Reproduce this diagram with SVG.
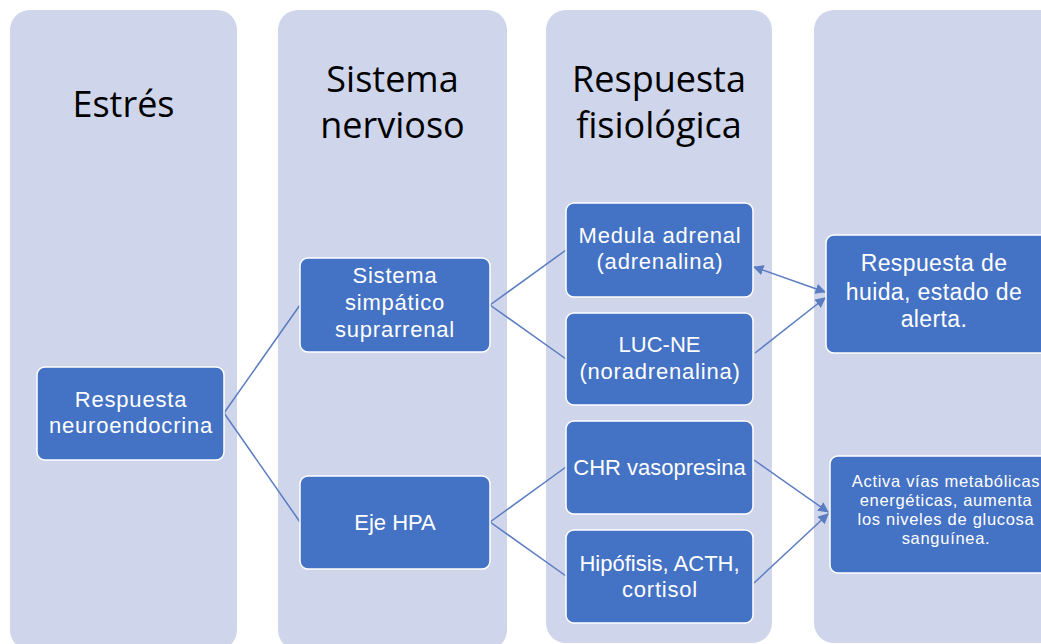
<svg xmlns="http://www.w3.org/2000/svg" width="1041" height="644" viewBox="0 0 1041 644">
<defs>
<style>
.col{fill:#cfd5ea;}
.node{fill:#4472c4;stroke:#ffffff;stroke-width:1.5;}
.hd{font-family:"Open Sans","Liberation Sans",sans-serif;font-size:36px;fill:#000000;text-anchor:middle;}
.t{font-family:"Liberation Sans",Arial,sans-serif;font-size:22px;letter-spacing:0.8px;fill:#ffffff;text-anchor:middle;}
.tn{font-family:"Liberation Sans",Arial,sans-serif;font-size:22px;letter-spacing:0px;fill:#ffffff;text-anchor:middle;}
.t2{font-family:"Liberation Sans",Arial,sans-serif;font-size:23px;letter-spacing:0.4px;fill:#ffffff;text-anchor:middle;}
.t3{font-family:"Liberation Sans",Arial,sans-serif;font-size:16.5px;letter-spacing:0.7px;fill:#ffffff;text-anchor:middle;}
.ln{stroke:#5b7cc0;stroke-width:1.5;fill:none;}
</style>
<marker id="ah" viewBox="0 0 10 10" refX="9" refY="5" markerWidth="7" markerHeight="7" orient="auto-start-reverse">
<path d="M0,0 L10,5 L0,10 z" fill="#5b7cc0"/>
</marker>
</defs>
<rect width="1041" height="644" fill="#ffffff"/>
<g id="col-estres">
<rect class="col" x="10" y="10" width="227" height="640" rx="20"/>
<text class="hd" x="123.5" y="117">Estrés</text>
</g>
<g id="col-sistema">
<rect class="col" x="278" y="10" width="229" height="640" rx="20"/>
<text class="hd" x="392.5" y="92">Sistema</text>
<text class="hd" x="392.5" y="138">nervioso</text>
</g>
<g id="col-respuesta">
<rect class="col" x="546" y="10" width="226" height="633" rx="20"/>
<text class="hd" x="659" y="92">Respuesta</text>
<text class="hd" x="659" y="138">fisiológica</text>
</g>
<g id="col-4">
<rect class="col" x="814" y="10" width="260" height="633" rx="20"/>
</g>
<g id="connectors">
<line class="ln" x1="224" y1="413" x2="300" y2="305"/>
<line class="ln" x1="224" y1="413" x2="300" y2="522"/>
<line class="ln" x1="490" y1="305" x2="566" y2="250"/>
<line class="ln" x1="490" y1="305" x2="566" y2="359"/>
<line class="ln" x1="490" y1="522" x2="566" y2="467"/>
<line class="ln" x1="490" y1="522" x2="566" y2="576"/>
<line class="ln" x1="754" y1="267" x2="825" y2="292" marker-start="url(#ah)" marker-end="url(#ah)"/>
<line class="ln" x1="755" y1="353" x2="825" y2="298" marker-end="url(#ah)"/>
<line class="ln" x1="754" y1="460" x2="828" y2="512" marker-end="url(#ah)"/>
<line class="ln" x1="754" y1="583" x2="828" y2="514" marker-end="url(#ah)"/>
</g>
<g id="n-neuro">
<rect class="node" x="37" y="367" width="187" height="93" rx="8"/>
<text class="t" x="131" y="407">Respuesta</text>
<text class="t" x="131" y="433">neuroendocrina</text>
</g>
<g id="n-simpatico">
<rect class="node" x="300" y="258" width="190" height="94" rx="8"/>
<text class="t" x="395" y="283">Sistema</text>
<text class="t" x="395" y="310">simpático</text>
<text class="t" x="395" y="337">suprarrenal</text>
</g>
<g id="n-hpa">
<rect class="node" x="300" y="476" width="190" height="93" rx="8"/>
<text class="tn" x="395" y="530">Eje HPA</text>
</g>
<g id="n-medula">
<rect class="node" x="566" y="203" width="187" height="94" rx="8"/>
<text class="t" x="660" y="243">Medula adrenal</text>
<text class="t" x="660" y="269">(adrenalina)</text>
</g>
<g id="n-lucne">
<rect class="node" x="566" y="313" width="187" height="92" rx="8"/>
<text class="tn" x="659.5" y="352">LUC-NE</text>
<text class="t" x="660" y="379">(noradrenalina)</text>
</g>
<g id="n-chr">
<rect class="node" x="566" y="421" width="187" height="93" rx="8"/>
<text class="tn" x="659.5" y="475">CHR vasopresina</text>
</g>
<g id="n-hipofisis">
<rect class="node" x="566" y="530" width="187" height="93" rx="8"/>
<text class="tn" x="659.5" y="571">Hipófisis, ACTH,</text>
<text class="t" x="660" y="597">cortisol</text>
</g>
<g id="n-huida">
<rect class="node" x="826" y="235" width="222" height="118" rx="8"/>
<text class="t2" x="934" y="271">Respuesta de</text>
<text class="t2" x="934" y="300">huida, estado de</text>
<text class="t2" x="934" y="327">alerta.</text>
</g>
<g id="n-activa">
<rect class="node" x="830" y="456" width="222" height="117" rx="8"/>
<text class="t3" x="946" y="487">Activa vías metabólicas</text>
<text class="t3" x="946" y="506">energéticas, aumenta</text>
<text class="t3" x="946" y="525">los niveles de glucosa</text>
<text class="t3" x="946" y="544">sanguínea.</text>
</g>
</svg>
